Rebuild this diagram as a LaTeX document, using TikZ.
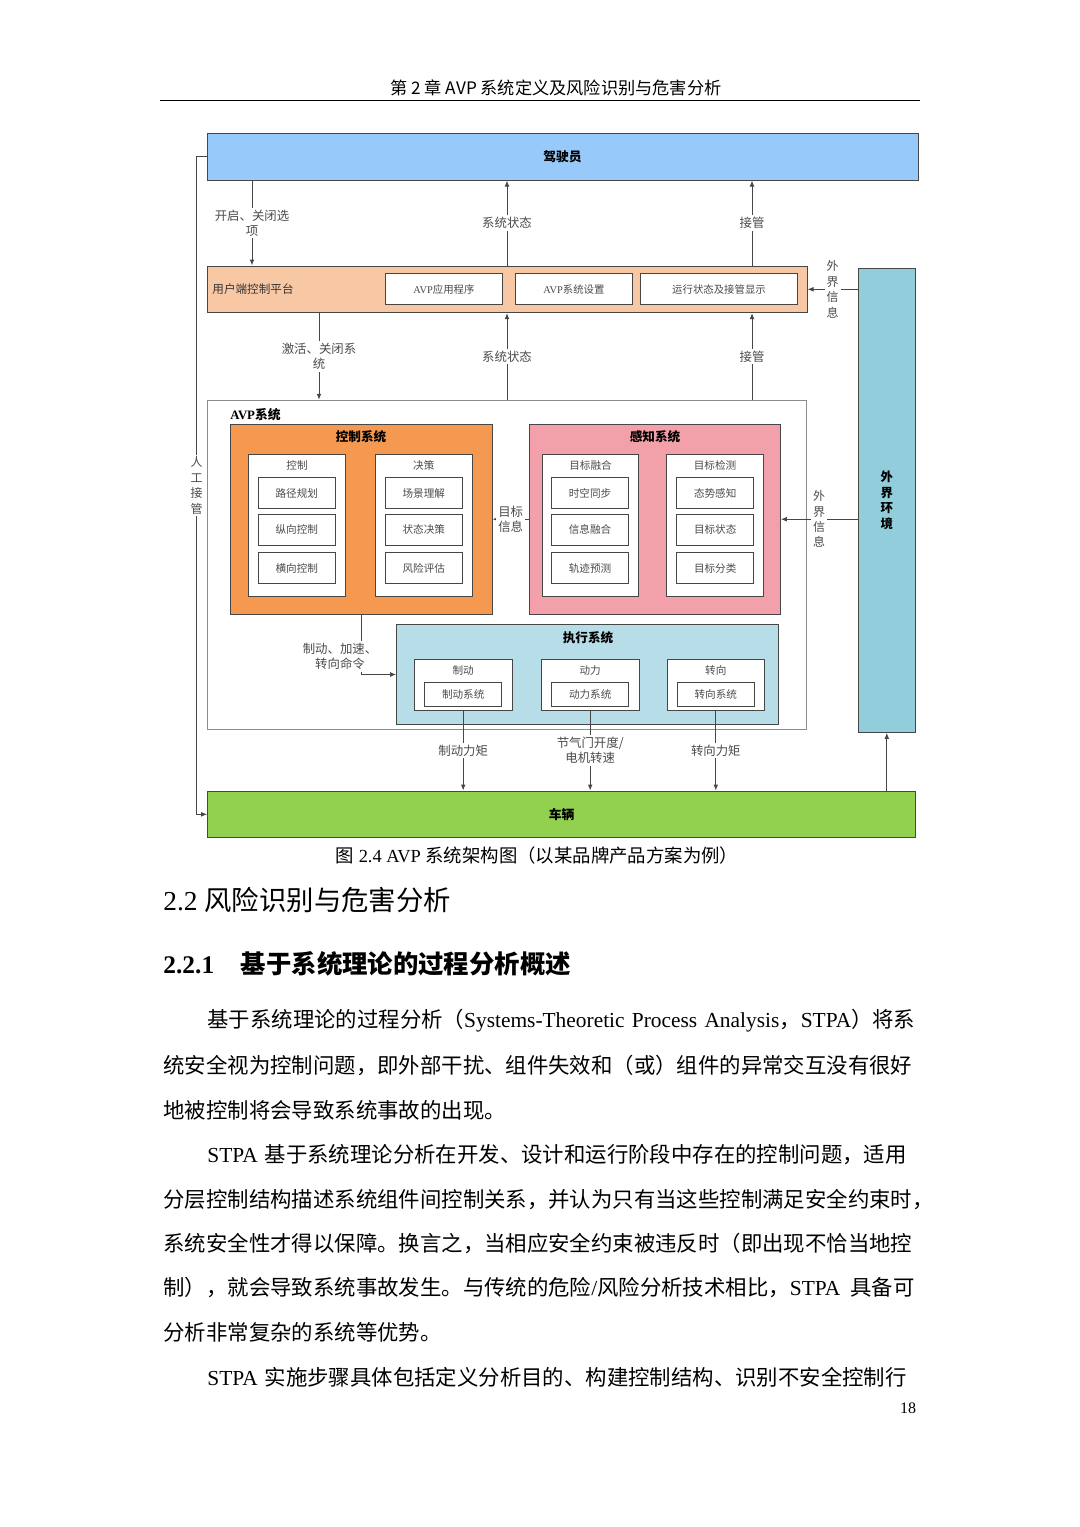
\documentclass[tikz,border=0pt]{standalone}
\usepackage{fontspec}
\usepackage{xcolor}
\usetikzlibrary{arrows.meta,positioning}
\setmainfont{Noto Sans CJK SC}
\newfontfamily\lat{Liberation Serif}
\XeTeXlinebreaklocale "zh"
\XeTeXlinebreakskip=0pt plus 1pt

\definecolor{drvblue}{RGB}{151,202,250}
\definecolor{platorange}{RGB}{248,200,164}
\definecolor{ctlorange}{RGB}{246,153,80}
\definecolor{perpink}{RGB}{242,160,170}
\definecolor{exeblue}{RGB}{183,222,232}
\definecolor{envblue}{RGB}{146,205,220}
\definecolor{vehgreen}{RGB}{146,208,80}
\definecolor{boxline}{RGB}{70,70,70}
\definecolor{txtgray}{RGB}{75,75,75}

\newcommand{\fullline}[1]{\hbox to 376pt{#1}}
\newcommand{\indline}[1]{\hbox to 354pt{#1}}

\begin{document}
\begin{tikzpicture}[x=0.5pt,y=-0.5pt,>={Latex[length=3pt,width=2.4pt]}]
    \tikzstyle{bigbox}=[rectangle,draw=boxline,line width=0.5pt,inner sep=0pt]
    \tikzstyle{whitebox}=[rectangle,draw=boxline,fill=white,line width=0.5pt,inner sep=0pt]
    \tikzstyle{itembox}=[whitebox,minimum width=38.5pt,minimum height=15.5pt,text=txtgray,font=\fontsize{5.3}{6}\selectfont]
    \tikzstyle{colbox}=[whitebox,minimum width=48.3pt,minimum height=71pt]
    \tikzstyle{boxtitle}=[font=\bfseries\fontsize{6.3}{7.5}\selectfont,inner sep=0pt]
    \tikzstyle{smalltext}=[font=\fontsize{5.3}{6}\selectfont,text=txtgray,inner sep=0pt]
    \tikzstyle{flowlabel}=[fill=white,align=center,inner sep=1pt,text=txtgray,font=\fontsize{6.2}{7.5}\selectfont]
    \tikzstyle{vlabel}=[fill=white,align=center,inner sep=1pt,text=txtgray,font=\fontsize{6}{7.7}\selectfont]
    \tikzstyle{flow}=[->,draw=boxline,line width=0.5pt]
    \tikzstyle{textline}=[anchor=west,inner sep=0pt,font=\fontsize{10.7}{12}\selectfont]

    \fill[white] (0,0) rectangle (1080,1527);
    \useasboundingbox (0,0) rectangle (1080,1527);

    % page header
    \node[font=\fontsize{8.6}{10}\selectfont] (head) at (556,88) {第 2 章 AVP 系统定义及风险识别与危害分析};
    \draw[line width=0.75pt] (160,100.7) -- (920,100.7);

    % driver and platform
    \node[bigbox,fill=drvblue,minimum width=355.5pt,minimum height=23.5pt,font=\bfseries\fontsize{6.4}{7.5}\selectfont] (drv) at (562.5,156.5) {驾驶员};
    \node[bigbox,fill=platorange,minimum width=300pt,minimum height=23.3pt] (plat) at (507,289.3) {};
    \node[anchor=west,inner sep=0pt,text=black!80,font=\fontsize{5.8}{7}\selectfont] (platname) at (212,289) {用户端控制平台};
    \node[whitebox,minimum width=58.6pt,minimum height=15.6pt,text=txtgray,font=\fontsize{5.2}{6}\selectfont] (app) at (444,289.3) {{\lat AVP}应用程序};
    \node[whitebox,minimum width=58.6pt,minimum height=15.6pt,text=txtgray,font=\fontsize{5.2}{6}\selectfont] (set) at (574,289.3) {{\lat AVP}系统设置};
    \node[whitebox,minimum width=78.5pt,minimum height=15.6pt,text=txtgray,font=\fontsize{5.2}{6}\selectfont] (disp) at (719,289.3) {运行状态及接管显示};

    % environment
    \node[bigbox,fill=envblue,minimum width=28.8pt,minimum height=232pt,align=center,font=\bfseries\fontsize{6.2}{7.8}\selectfont] (env) at (886.8,500.3) {外\\界\\环\\境};

    % AVP system
    \node[bigbox,draw=black!45,fill=white,minimum width=299.5pt,minimum height=164.5pt] (avp) at (507.2,564.8) {};
    \node[boxtitle,anchor=west,font=\bfseries\fontsize{6.4}{7.5}\selectfont] (avpname) at (230,415) {{\lat AVP}系统};

    \node[bigbox,fill=ctlorange,minimum width=131pt,minimum height=94.8pt] (ctl) at (361,519.2) {};
    \node[boxtitle] (ctlname) at (361,436.7) {控制系统};
    \node[bigbox,fill=perpink,minimum width=125.5pt,minimum height=94.8pt] (per) at (654.8,519.2) {};
    \node[boxtitle] (pername) at (655,436.7) {感知系统};

    \foreach \x/\t [count=\i] in {297/控制, 423.8/决策, 590.5/目标融合, 715/目标检测}{
        \node[colbox] (col-\i) at (\x,525.3) {};
        \node[smalltext] (coltitle-\i) at (\x,465) {\t};
    }
    \foreach \x/\a/\b/\c [count=\i] in {296.8/路径规划/纵向控制/横向控制, 423.8/场景理解/状态决策/风险评估, 590/时空同步/信息融合/轨迹预测, 715.2/态势感知/目标状态/目标分类}{
        \node[itembox] (item-\i-1) at (\x,493) {\a};
        \node[itembox] (item-\i-2) at (\x,529.5) {\b};
        \node[itembox] (item-\i-3) at (\x,568.2) {\c};
    }

    \node[bigbox,fill=exeblue,minimum width=190.7pt,minimum height=49.8pt] (exe) at (587.4,674.5) {};
    \node[boxtitle] (exename) at (588,637.3) {执行系统};
    \foreach \x/\n/\t/\s in {463.2/brk/制动/制动系统, 590.2/pow/动力/动力系统, 715.8/str/转向/转向系统}{
        \node[whitebox,minimum width=48.8pt,minimum height=25.5pt] (\n) at (\x,684.5) {};
        \node[smalltext] (\n-title) at (\x,670) {\t};
        \node[whitebox,minimum width=38.5pt,minimum height=12.2pt,text=txtgray,font=\fontsize{5.3}{6}\selectfont] (\n-sys) at (\x,694.5) {\s};
    }

    % vehicle
    \node[bigbox,fill=vehgreen,minimum width=354pt,minimum height=23.3pt,font=\bfseries\fontsize{6.4}{7.5}\selectfont] (veh) at (561.7,814.3) {车辆};

    % connectors
    \coordinate (optx) at (252,0);
    \coordinate (actx) at (319,0);
    \coordinate (tkx) at (752,0);
    \coordinate (manx) at (196.5,0);

    \draw[flow] (drv.south -| optx) -- node[flowlabel]{开启、关闭选\\项} (plat.north -| optx);
    \draw[flow] (plat.north) -- node[flowlabel]{系统状态} (drv.south -| plat.north);
    \draw[flow] (plat.north -| tkx) -- node[flowlabel]{接管} (drv.south -| tkx);
    \draw[flow] (env.west |- plat.east) -- node[vlabel]{外\\界\\信\\息} (plat.east);
    \draw[flow] (plat.south -| actx) -- node[flowlabel]{激活、关闭系\\统} (avp.north -| actx);
    \draw[flow] (avp.north -| plat.south) -- node[flowlabel]{系统状态} (plat.south);
    \draw[flow] (avp.north -| tkx) -- node[flowlabel]{接管} (plat.south -| tkx);
    \draw[flow] (per.west) -- node[flowlabel]{目标\\信息} (ctl.east);
    \draw[flow] (env.west |- per.east) -- node[vlabel]{外\\界\\信\\息} (per.east);
    \draw[flow] (ctl.south) |- node[flowlabel,pos=0.35,xshift=-10.5pt]{制动、加速、\\转向命令} (exe.west);
    \draw[flow] (brk.south) -- node[flowlabel]{制动力矩} (veh.north -| brk.south);
    \draw[flow] (pow.south) -- node[flowlabel]{节气门开度/\\电机转速} (veh.north -| pow.south);
    \draw[flow] (str.south) -- node[flowlabel]{转向力矩} (veh.north -| str.south);
    \draw[flow] (veh.north -| env.south) -- (env.south);
    \draw[flow] (drv.west) -- (drv.west -| manx) -- node[vlabel]{人\\工\\接\\管} (veh.west -| manx) -- (veh.west);

    % caption and text
    \node[font=\fontsize{9.2}{11}\selectfont] (cap) at (537,855.7) {图{\lat\ 2.4 AVP\ }系统架构图（以某品牌产品方案为例）};
    \node[anchor=west,inner sep=0pt,font=\fontsize{13.7}{16}\selectfont] (sec) at (163,900) {{\lat 2.2 }风险识别与危害分析};
    \node[anchor=west,inner sep=0pt,font=\bfseries\fontsize{12.7}{15}\selectfont] (subsec) at (163,964) {{\lat 2.2.1}\hspace{13.3pt}基于系统理论的过程分析概述};

    \node[textline] (line-1) at (207,1021) {\indline{基于系统理论的过程分析（{\lat Systems-Theoretic Process Analysis}，{\lat STPA}）将系}};
    \node[textline] (line-2) at (163,1065) {\fullline{统安全视为控制问题，即外部干扰、组件失效和（或）组件的异常交互没有很好}};
    \node[textline] (line-3) at (163,1110) {地被控制将会导致系统事故的出现。};
    \node[textline] (line-4) at (207,1155) {\indline{{\lat STPA}\hspace{3.5pt}基于系统理论分析在开发、设计和运行阶段中存在的控制问题，适用}};
    \node[textline] (line-5) at (163,1200) {分层控制结构描述系统组件间控制关系，并认为只有当这些控制满足安全约束时，};
    \node[textline] (line-6) at (163,1243) {\fullline{系统安全性才得以保障。换言之，当相应安全约束被违反时（即出现不恰当地控}};
    \node[textline] (line-7) at (163,1287) {\fullline{制），就会导致系统事故发生。与传统的危险{\lat /}风险分析技术相比，{\lat STPA}\hspace{5pt}具备可}};
    \node[textline] (line-8) at (163,1332) {分析非常复杂的系统等优势。};
    \node[textline] (line-9) at (207,1377) {\indline{{\lat STPA}\hspace{3.5pt}实施步骤具体包括定义分析目的、构建控制结构、识别不安全控制行}};
    \node[font=\lat\fontsize{8}{9}\selectfont] (pagenum) at (908,1408) {18};
\end{tikzpicture}
\end{document}
